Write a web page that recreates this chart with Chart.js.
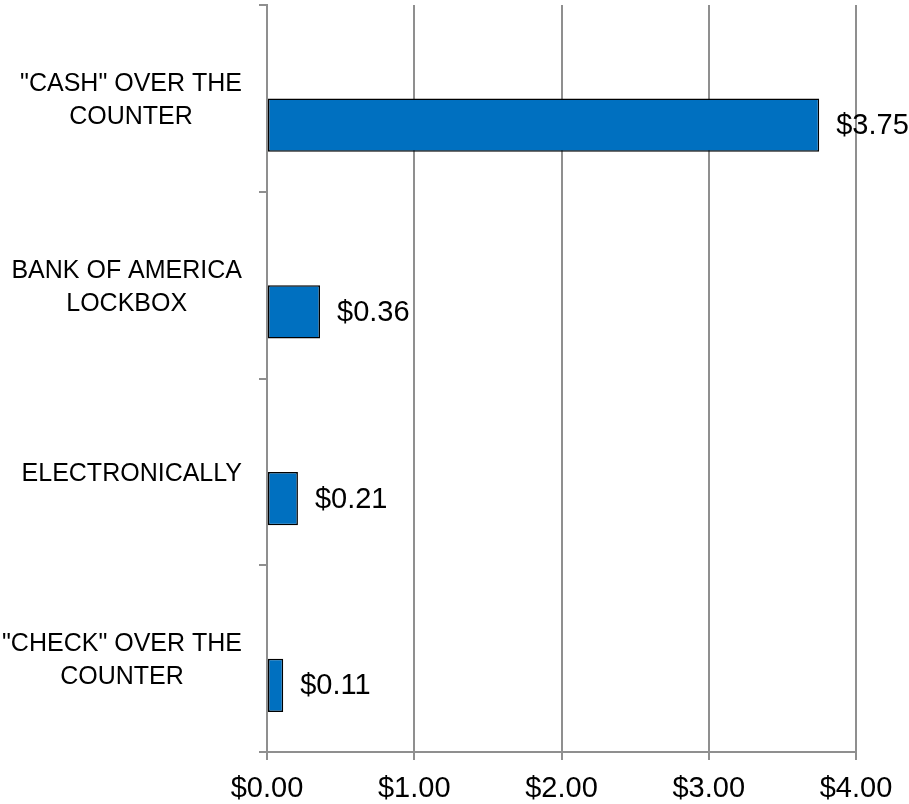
<!DOCTYPE html>
<html>
<head>
<meta charset="utf-8">
<script src="https://cdn.jsdelivr.net/npm/chart.js@4/dist/chart.umd.min.js"></script>
<style>
  html, body { margin: 0; padding: 0; background: #fff; }
  #wrap { width: 909px; height: 804px; }
</style>
</head>
<body>
<div id="wrap"><canvas id="c" width="909" height="804"></canvas></div>
<script>
const categories = [
  ['"CASH" OVER THE', 'COUNTER'],
  ['BANK OF AMERICA', 'LOCKBOX'],
  ['ELECTRONICALLY'],
  ['"CHECK" OVER THE', 'COUNTER']
];
const costValues = [3.75, 0.36, 0.21, 0.11];
const emptySeries = [null, null, null, null];
const xTickValues = [0, 1, 2, 3, 4];

const GRID = '#8f8f8f';
const FONT = '"Liberation Sans", Arial, sans-serif';

const categoryLabelPlugin = {
  id: 'categoryLabels',
  afterDraw(chart) {
    const ctx = chart.ctx;
    const y = chart.scales.y;
    ctx.save();
    ctx.font = '25px ' + FONT;
    ctx.fillStyle = '#000';
    ctx.textBaseline = 'middle';
    ctx.textAlign = 'center';
    const rightEdge = y.right - 25;
    const lh = 33;
    categories.forEach((lines, i) => {
      const cy = y.getPixelForValue(i) + 2;
      const widest = Math.max(...lines.map(l => ctx.measureText(l).width));
      const cx = rightEdge - widest / 2;
      const top = cy - (lines.length - 1) * lh / 2;
      lines.forEach((l, j) => ctx.fillText(l, cx, top + j * lh));
    });
    ctx.restore();
  }
};

const valueLabelPlugin = {
  id: 'valueLabels',
  afterDatasetsDraw(chart) {
    const ctx = chart.ctx;
    const meta = chart.getDatasetMeta(1);
    ctx.save();
    ctx.font = '29px ' + FONT;
    ctx.fillStyle = '#000';
    ctx.textBaseline = 'middle';
    ctx.textAlign = 'left';
    meta.data.forEach((bar, i) => {
      const v = costValues[i];
      ctx.fillText('$' + v.toFixed(2), bar.x + 17, bar.y + 1);
    });
    ctx.restore();
  }
};

new Chart(document.getElementById('c'), {
  type: 'bar',
  data: {
    labels: categories.map(c => c.join(' ')),
    datasets: [
      { label: 'spacer', data: emptySeries, backgroundColor: 'rgba(0,0,0,0)' },
      {
        label: 'Cost',
        data: costValues,
        backgroundColor: '#0070C0',
        borderColor: '#000000',
        borderWidth: 1.5,
        borderSkipped: false
      }
    ]
  },
  options: {
    indexAxis: 'y',
    responsive: false,
    animation: false,
    devicePixelRatio: 1,
    layout: { padding: { top: 5, right: 53, left: 0, bottom: 0 } },
    datasets: { bar: { categoryPercentage: 2 / 3.5, barPercentage: 1 } },
    plugins: { legend: { display: false }, tooltip: { enabled: false } },
    scales: {
      x: {
        type: 'linear',
        min: 0,
        max: 4,
        afterBuildTicks(scale) { scale.ticks = xTickValues.map(v => ({ value: v })); },
        afterFit(scale) { scale.height = 52; },
        ticks: {
          font: { family: FONT, size: 29, lineHeight: 1 },
          color: '#000',
          padding: 14,
          callback: v => '$' + Number(v).toFixed(2)
        },
        grid: { color: GRID, lineWidth: 2, tickLength: 8, drawTicks: true },
        border: { color: GRID, width: 2 }
      },
      y: {
        type: 'category',
        offset: true,
        afterFit(scale) { scale.width = 267; },
        ticks: { display: false },
        grid: { offset: true, drawOnChartArea: false, drawTicks: true, tickLength: 8, color: GRID, lineWidth: 2 },
        border: { color: GRID, width: 2 }
      }
    }
  },
  plugins: [categoryLabelPlugin, valueLabelPlugin]
});
</script>
</body>
</html>
